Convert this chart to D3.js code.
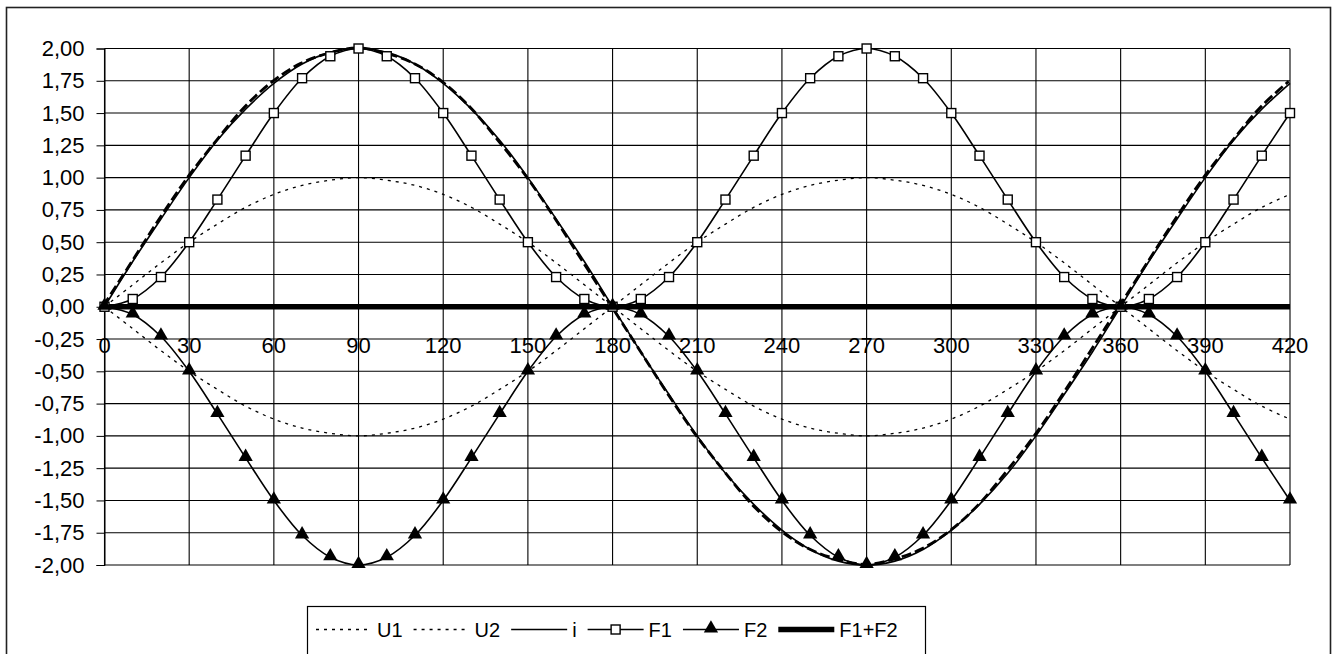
<!DOCTYPE html>
<html>
<head>
<meta charset="utf-8">
<script src="https://cdn.jsdelivr.net/npm/d3@7"></script>
<style>
  html, body { margin: 0; padding: 0; background: #fff; }
  svg { display: block; }
  svg text { font-family: "Liberation Sans", Arial, sans-serif; }
</style>
</head>
<body>
<svg id="chart" width="1337" height="654"></svg>
<script>
// Angle in degrees, sampled every 10°
const angles = [0,10,20,30,40,50,60,70,80,90,100,110,120,130,140,150,160,170,180,190,200,210,220,230,240,250,260,270,280,290,300,310,320,330,340,350,360,370,380,390,400,410,420];

const U1 = [0.00,0.17,0.34,0.50,0.64,0.77,0.87,0.94,0.98,1.00,0.98,0.94,0.87,0.77,0.64,0.50,0.34,0.17,0.00,-0.17,-0.34,-0.50,-0.64,-0.77,-0.87,-0.94,-0.98,-1.00,-0.98,-0.94,-0.87,-0.77,-0.64,-0.50,-0.34,-0.17,0.00,0.17,0.34,0.50,0.64,0.77,0.87];
const U2 = [0.00,-0.17,-0.34,-0.50,-0.64,-0.77,-0.87,-0.94,-0.98,-1.00,-0.98,-0.94,-0.87,-0.77,-0.64,-0.50,-0.34,-0.17,0.00,0.17,0.34,0.50,0.64,0.77,0.87,0.94,0.98,1.00,0.98,0.94,0.87,0.77,0.64,0.50,0.34,0.17,0.00,-0.17,-0.34,-0.50,-0.64,-0.77,-0.87];
const I = [0.00,0.35,0.68,1.00,1.29,1.53,1.73,1.88,1.97,2.00,1.97,1.88,1.73,1.53,1.29,1.00,0.68,0.35,0.00,-0.35,-0.68,-1.00,-1.29,-1.53,-1.73,-1.88,-1.97,-2.00,-1.97,-1.88,-1.73,-1.53,-1.29,-1.00,-0.68,-0.35,0.00,0.35,0.68,1.00,1.29,1.53,1.73];
// U1 - U2 voltage difference
const Udiff = [0.00,0.34,0.68,1.00,1.28,1.54,1.74,1.88,1.96,2.00,1.96,1.88,1.74,1.54,1.28,1.00,0.68,0.34,0.00,-0.34,-0.68,-1.00,-1.28,-1.54,-1.74,-1.88,-1.96,-2.00,-1.96,-1.88,-1.74,-1.54,-1.28,-1.00,-0.68,-0.34,0.00,0.34,0.68,1.00,1.28,1.54,1.74];
const F1 = [0.00,0.06,0.23,0.50,0.83,1.17,1.50,1.77,1.94,2.00,1.94,1.77,1.50,1.17,0.83,0.50,0.23,0.06,0.00,0.06,0.23,0.50,0.83,1.17,1.50,1.77,1.94,2.00,1.94,1.77,1.50,1.17,0.83,0.50,0.23,0.06,0.00,0.06,0.23,0.50,0.83,1.17,1.50];
const F2 = [0.00,-0.06,-0.23,-0.50,-0.83,-1.17,-1.50,-1.77,-1.94,-2.00,-1.94,-1.77,-1.50,-1.17,-0.83,-0.50,-0.23,-0.06,0.00,-0.06,-0.23,-0.50,-0.83,-1.17,-1.50,-1.77,-1.94,-2.00,-1.94,-1.77,-1.50,-1.17,-0.83,-0.50,-0.23,-0.06,0.00,-0.06,-0.23,-0.50,-0.83,-1.17,-1.50];
const F12 = [0,0,0,0,0,0,0,0,0,0,0,0,0,0,0,0,0,0,0,0,0,0,0,0,0,0,0,0,0,0,0,0,0,0,0,0,0,0,0,0,0,0,0];

const xTicks = [0,30,60,90,120,150,180,210,240,270,300,330,360,390,420];
const yTicks = [2.00,1.75,1.50,1.25,1.00,0.75,0.50,0.25,0.00,-0.25,-0.50,-0.75,-1.00,-1.25,-1.50,-1.75,-2.00];

const legendNames = ["U1","U2","i","F1","F2","F1+F2"];

const FONT = "'Liberation Sans', Arial, sans-serif";
const svg = d3.select("#chart");
const plot = { left: 104.5, right: 1290, top: 48.5, bottom: 565 };

const x = d3.scaleLinear().domain([0, 420]).range([plot.left, plot.right]);
const y = d3.scaleLinear().domain([-2, 2]).range([plot.bottom, plot.top]);

const fmt = d3.formatLocale({ decimal: ",", thousands: ".", grouping: [3], currency: ["", ""], minus: "-" }).format(".2f");

// Outer chart frame
svg.append("rect")
  .attr("x", 6.5).attr("y", 7.5).attr("width", 1324).attr("height", 700)
  .attr("fill", "none").attr("stroke", "#222").attr("stroke-width", 1.6);

// Grid
const grid = svg.append("g").attr("stroke", "#000").attr("stroke-width", 1.1);
grid.selectAll("line.h").data(yTicks).join("line")
  .attr("x1", plot.left).attr("x2", plot.right)
  .attr("y1", d => y(d)).attr("y2", d => y(d));
grid.selectAll("line.v").data(xTicks).join("line")
  .attr("y1", plot.top).attr("y2", plot.bottom)
  .attr("x1", d => x(d)).attr("x2", d => x(d));

// Y axis with outside ticks
const yAxis = d3.axisLeft(y).tickValues(yTicks).tickSize(8).tickPadding(12).tickFormat(fmt);
const gy = svg.append("g").attr("transform", `translate(${plot.left},0)`).call(yAxis);
gy.select(".domain").attr("stroke", "#000");
gy.selectAll(".tick line").attr("stroke", "#000");
gy.selectAll(".tick text").attr("font-size", 22).attr("fill", "#000").attr("font-family", FONT);

// X tick labels sit below the zero line
svg.append("g").selectAll("text").data(xTicks).join("text")
  .attr("x", d => x(d)).attr("y", y(0) + 46)
  .attr("text-anchor", "middle").attr("font-size", 22).attr("fill", "#000")
  .attr("font-family", FONT)
  .text(d => d);

const line = vals => d3.line()
  .x((d, i) => x(angles[i]))
  .y(d => y(d))
  .curve(d3.curveCatmullRom.alpha(0.5))(vals);

const g = svg.append("g").attr("fill", "none");
g.append("path").attr("d", line(U1)).attr("stroke", "#000").attr("stroke-width", 1.3).attr("stroke-dasharray", "3,5");
g.append("path").attr("d", line(U2)).attr("stroke", "#000").attr("stroke-width", 1.3).attr("stroke-dasharray", "3,5");
g.append("path").attr("d", line(Udiff)).attr("stroke", "#000").attr("stroke-width", 2.8).attr("stroke-dasharray", "10,4")
  .attr("transform", "translate(-1.3,-0.7)");
g.append("path").attr("d", line(I)).attr("stroke", "#000").attr("stroke-width", 1.6);
g.append("path").attr("d", line(F1)).attr("stroke", "#000").attr("stroke-width", 1.6);
g.append("path").attr("d", line(F2)).attr("stroke", "#000").attr("stroke-width", 1.6);
g.append("path").attr("d", line(F12)).attr("stroke", "#000").attr("stroke-width", 5.5);

// Markers
const sq = 9;
svg.append("g").selectAll("rect").data(F1).join("rect")
  .attr("x", (d, i) => x(angles[i]) - sq / 2).attr("y", d => y(d) - sq / 2)
  .attr("width", sq).attr("height", sq)
  .attr("fill", "#fff").attr("stroke", "#000").attr("stroke-width", 1.4);

const tri = d3.symbol().type(d3.symbolTriangle).size(88);
svg.append("g").selectAll("path").data(F2).join("path")
  .attr("transform", (d, i) => `translate(${x(angles[i])},${y(d) - 1})`)
  .attr("d", tri).attr("fill", "#000");

// Legend
const lg = svg.append("g");
lg.append("rect").attr("x", 307.5).attr("y", 606.5).attr("width", 618).attr("height", 80)
  .attr("fill", "#fff").attr("stroke", "#000").attr("stroke-width", 1.2);

const lineLen = 56, ly = 629.5;
let cx = 316;
legendNames.forEach((name, k) => {
  const item = lg.append("g");
  const seg = item.append("line").attr("x1", cx).attr("x2", cx + lineLen).attr("y1", ly).attr("y2", ly).attr("stroke", "#000");
  if (k < 2) seg.attr("stroke-width", 1.3).attr("stroke-dasharray", "3,5");
  else if (k === 5) seg.attr("stroke-width", 5.5);
  else seg.attr("stroke-width", 1.6);
  if (k === 3) {
    item.append("rect").attr("x", cx + lineLen / 2 - sq / 2).attr("y", ly - sq / 2).attr("width", sq).attr("height", sq)
      .attr("fill", "#fff").attr("stroke", "#000").attr("stroke-width", 1.4);
  }
  if (k === 4) {
    item.append("path").attr("transform", `translate(${cx + lineLen / 2},${ly - 1})`).attr("d", tri).attr("fill", "#000");
  }
  const t = item.append("text").attr("x", cx + lineLen + 5).attr("y", ly + 7)
    .attr("font-size", 20).attr("fill", "#000").attr("font-family", FONT).text(name);
  cx += lineLen + 5 + t.node().getComputedTextLength() + 11;
});
</script>
</body>
</html>
